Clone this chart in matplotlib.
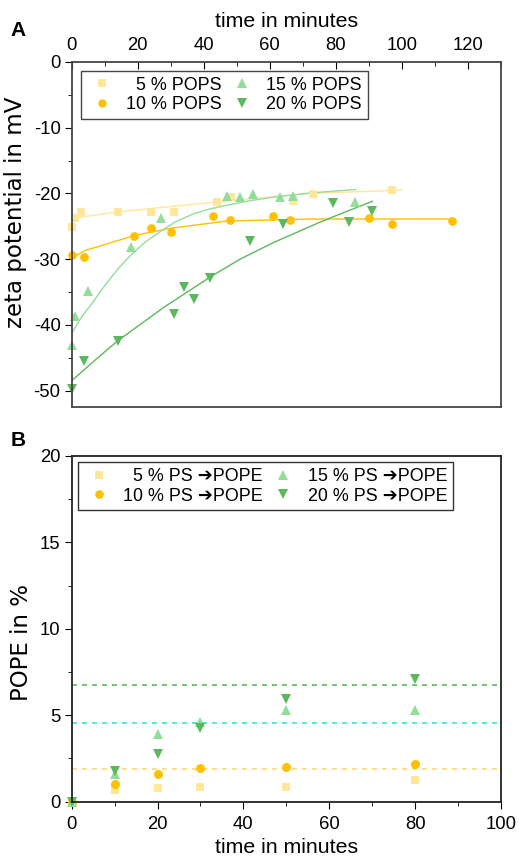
import matplotlib
matplotlib.use("Agg")
import matplotlib.pyplot as plt

plt.rcParams['font.family'] = ['Liberation Sans', 'DejaVu Sans']
plt.rcParams['axes.unicode_minus'] = False

# ---- panel A: zeta potential over time ----
t5 = [0, 0.9, 2.9, 14.0, 23.9, 30.9, 43.9, 48.1, 67.0, 73.0, 97.0]
z5 = [-25.1, -23.7, -22.8, -22.8, -22.8, -22.8, -21.3, -20.5, -21.1, -20.1, -19.5]
t10 = [0, 3.8, 19.0, 23.9, 30.0, 42.9, 48.0, 60.9, 66.0, 90.0, 97.0, 115.1]
z10 = [-29.3, -29.7, -26.5, -25.2, -25.8, -23.4, -24.1, -23.4, -24.0, -23.7, -24.7, -24.2]
t15 = [0, 0.9, 4.9, 18.0, 27.0, 47.0, 51.0, 54.9, 63.0, 67.0, 85.9]
z15 = [-43.0, -38.7, -34.8, -28.1, -23.7, -20.4, -20.6, -20.1, -20.6, -20.4, -21.3]
t20 = [0, 3.8, 14.0, 30.9, 33.9, 37.0, 42.0, 53.9, 64.0, 79.0, 84.0, 90.9]
z20 = [-49.8, -45.5, -42.4, -38.4, -34.3, -36.0, -32.8, -27.3, -24.6, -21.5, -24.3, -22.7]

# fit curves
ft5 = [0, 14, 44, 72, 100]
fz5 = [-23.8, -22.8, -21.3, -20.0, -19.5]
ft10 = [0, 4, 19, 30, 47, 72, 115]
fz10 = [-29.8, -28.7, -26.4, -25.3, -24.2, -23.9, -23.9]
ft15 = [0, 3, 6.5, 9, 11.6, 14.5, 17.7, 22, 26.8, 31.5, 36.9, 41.5, 47, 54, 62, 73, 86]
fz15 = [-41.3, -38.8, -36.5, -34.7, -33.0, -31.2, -29.5, -27.5, -25.8, -24.3, -23.1, -22.4, -21.8, -21.1, -20.5, -19.9, -19.4]
ft20 = [0, 7, 14, 28, 42, 51, 61, 76, 91]
fz20 = [-48.5, -45.4, -42.4, -37.3, -32.7, -30.0, -27.5, -24.2, -21.2]

# ---- panel B: POPE conversion ----
tb = [0, 10, 20, 30, 50, 80]
p5 = [0, 0.68, 0.81, 0.87, 0.85, 1.24]
p10 = [0, 1.03, 1.59, 1.93, 2.03, 2.17]
p15 = [0, 1.59, 3.89, 4.62, 5.28, 5.32]
p20 = [0, 1.78, 2.75, 4.24, 5.96, 7.10]
levels = [6.77, 4.58, 1.90]

c5, c10, c15, c20 = '#FFE699', '#FFC000', '#92DC9C', '#5CB85C'
level_colors = ['#5CB85C', '#40E0D0', '#FFD580']

fig = plt.figure(figsize=(5.19, 8.63), dpi=100)
W, H = 519, 863
ax1 = fig.add_axes([71.7 / W, 1 - 407 / H, (501 - 71.7) / W, (407 - 62) / H])
ax2 = fig.add_axes([71.7 / W, 1 - 801.7 / H, (501 - 71.7) / W, (801.7 - 456) / H])

tick_fs = 13.3
xlab_fs = 15.3
ylab_fs = 16.5
ylab_font = ['DejaVu Sans']
leg_fs = 12.9
leg_kw = dict(ncol=2, loc='upper left', fontsize=leg_fs, frameon=True, fancybox=False,
              framealpha=1, handlelength=1.7, handletextpad=0.5, columnspacing=0.3,
              borderpad=0.32, labelspacing=0.15, markerscale=0.95)

# panel A
ax1.plot(ft5, fz5, color=c5, lw=1.0)
ax1.plot(ft10, fz10, color=c10, lw=1.0)
ax1.plot(ft15, fz15, color=c15, lw=1.0)
ax1.plot(ft20, fz20, color=c20, lw=1.0)
ax1.plot(t5, z5, 's', color=c5, ms=5.8, mew=0, clip_on=False, label='  5 % POPS')
ax1.plot(t10, z10, 'o', color=c10, ms=6.3, mew=0, clip_on=False, label='10 % POPS')
ax1.plot(t15, z15, '^', color=c15, ms=7, mew=0, clip_on=False, label='15 % POPS')
ax1.plot(t20, z20, 'v', color=c20, ms=7, mew=0, clip_on=False, label='20 % POPS')
ax1.set_xlim(0, 130)
ax1.set_ylim(-52.5, 0)
ax1.xaxis.tick_top()
ax1.xaxis.set_label_position('top')
ax1.set_xticks(range(0, 121, 20))
ax1.set_xticks(range(10, 131, 20), minor=True)
ax1.set_yticks(range(-50, 1, 10))
ax1.set_yticks(range(-45, 0, 10), minor=True)
ax1.tick_params(axis='x', which='both', direction='in', labelsize=tick_fs, pad=6)
ax1.tick_params(axis='x', which='major', length=5)
ax1.tick_params(axis='x', which='minor', length=3)
ax1.tick_params(axis='y', which='both', direction='out', labelsize=tick_fs, pad=3)
ax1.tick_params(axis='y', which='major', length=5)
ax1.tick_params(axis='y', which='minor', length=3)
ax1.set_xlabel('time in minutes', fontsize=xlab_fs, labelpad=7)
ax1.set_ylabel('zeta potential in mV', fontsize=ylab_fs, family=ylab_font)
ax1.yaxis.set_label_coords(-0.105, 0.565)
for s in ax1.spines.values():
    s.set_color('#444444')
    s.set_linewidth(1.3)
ax1.legend(edgecolor='#444444', borderaxespad=0.5, **leg_kw)

# panel B
for lv, lc in zip(levels, level_colors):
    ax2.axhline(lv, color=lc, lw=1.2, ls=(0, (3, 3)))
ax2.plot(tb, p5, 's', color=c5, ms=6, mew=0, clip_on=False, label='  5 % PS \u2794POPE')
ax2.plot(tb, p10, 'o', color=c10, ms=6.5, mew=0, clip_on=False, label='10 % PS \u2794POPE')
ax2.plot(tb, p15, '^', color=c15, ms=7.5, mew=0, clip_on=False, label='15 % PS \u2794POPE')
ax2.plot(tb, p20, 'v', color=c20, ms=7.5, mew=0, clip_on=False, label='20 % PS \u2794POPE')
ax2.set_xlim(0, 100)
ax2.set_ylim(0, 20)
ax2.set_xticks(range(0, 101, 20))
ax2.set_xticks(range(10, 100, 20), minor=True)
ax2.set_yticks(range(0, 21, 5))
ax2.set_yticks([2.5, 7.5, 12.5, 17.5], minor=True)
ax2.tick_params(axis='both', which='both', direction='out', labelsize=tick_fs)
ax2.tick_params(axis='x', pad=5)
ax2.tick_params(axis='y', pad=3)
ax2.tick_params(which='major', length=5)
ax2.tick_params(which='minor', length=3)
ax2.set_xlabel('time in minutes', fontsize=xlab_fs, labelpad=4)
ax2.set_ylabel('POPE in %', fontsize=ylab_fs, family=ylab_font)
ax2.yaxis.set_label_coords(-0.089, 0.46)
for s in ax2.spines.values():
    s.set_color('#222222')
    s.set_linewidth(1.3)
ax2.legend(edgecolor='#333333', borderaxespad=0.35, **leg_kw)

fig.text(18 / W, 1 - 30 / H, 'A', fontsize=15, fontweight='bold', va='center', ha='center')
fig.text(18 / W, 1 - 440 / H, 'B', fontsize=15, fontweight='bold', va='center', ha='center')

fig.savefig('out.png', dpi=100)
